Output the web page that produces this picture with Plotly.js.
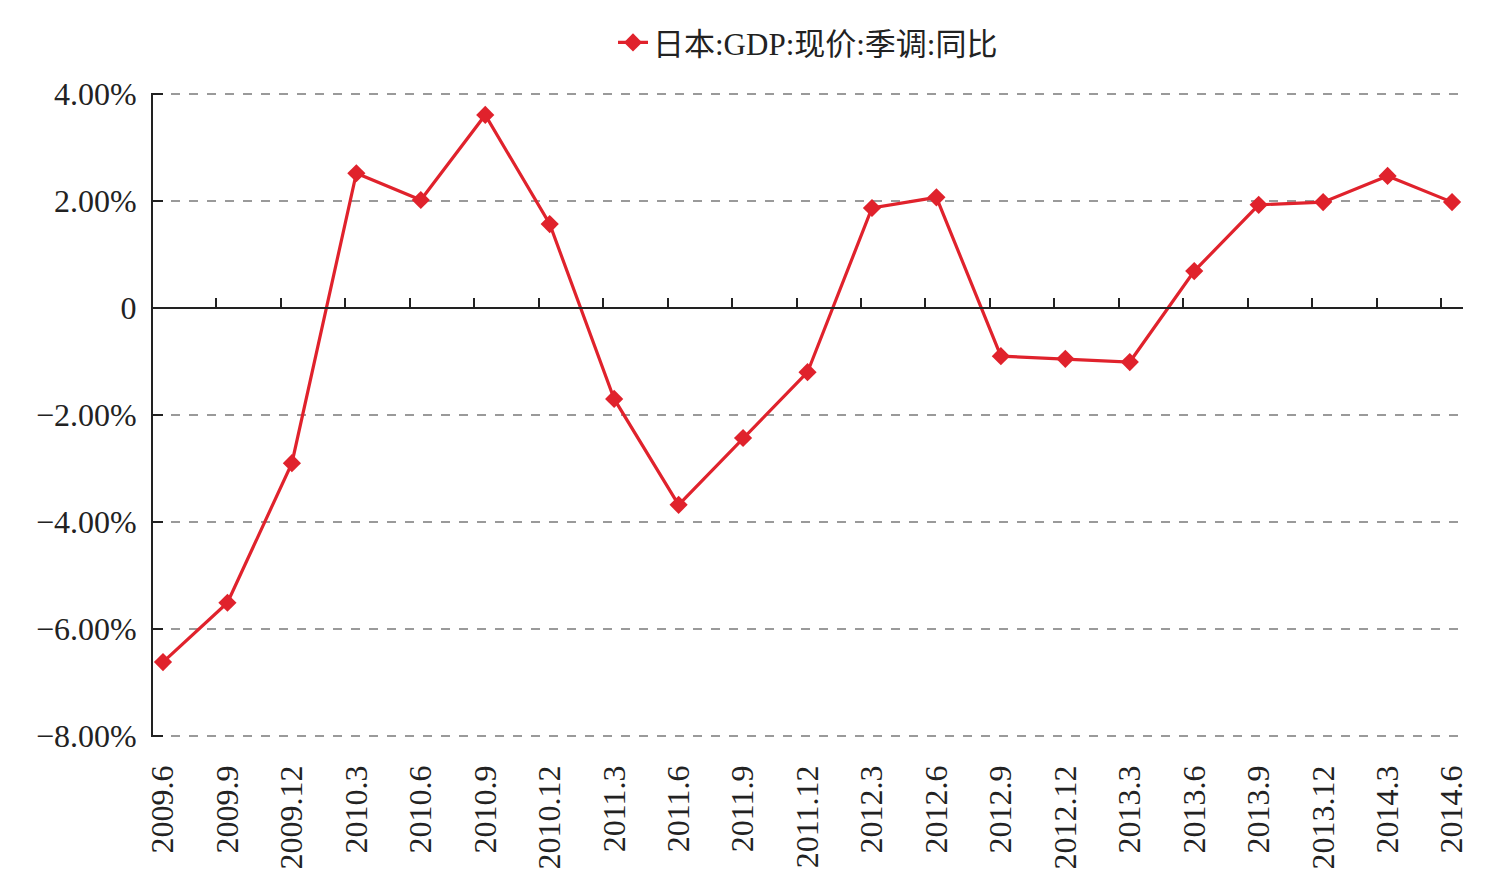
<!DOCTYPE html>
<html>
<head>
<meta charset="utf-8">
<script src="https://cdn.plot.ly/plotly-3.0.1.min.js"></script>
<style>html,body{margin:0;padding:0;background:#fff;}#chart{width:1509px;height:892px;}</style>
</head>
<body>
<div id="chart"></div>
<script>
const categories = ["2009.6","2009.9","2009.12","2010.3","2010.6","2010.9","2010.12","2011.3","2011.6","2011.9","2011.12","2012.3","2012.6","2012.9","2012.12","2013.3","2013.6","2013.9","2013.12","2014.3","2014.6"];
const gdpYoY = [-6.62,-5.51,-2.90,2.52,2.02,3.61,1.57,-1.70,-3.68,-2.43,-1.20,1.87,2.07,-0.90,-0.95,-1.01,0.69,1.93,1.98,2.47,1.98];
const seriesName = "日本:GDP:现价:季调:同比";
const yTickVals = [4,2,0,-2,-4,-6,-8];
const yTickText = ["4.00%","2.00%","0","\u22122.00%","\u22124.00%","\u22126.00%","\u22128.00%"];

const idx = categories.map((c,i)=>i);
const serif = "Liberation Serif, Times New Roman, serif";
const xr = [-0.155, categories.length - 1 + 0.17];
const pad = 0.02;

const trace = {
  x: idx, y: gdpYoY, name: seriesName, type: "scatter", mode: "lines+markers",
  line: {color: "#e0222c", width: 3.2},
  marker: {symbol: "diamond", size: 14, color: "#e0222c"},
  hoverinfo: "skip"
};
const helper = {x: [xr[0]], y: [0], xaxis: "x2", yaxis: "y", mode: "markers",
  marker: {opacity: 0}, showlegend: false, hoverinfo: "skip"};

const layout = {
  width: 1509, height: 892,
  margin: {l: 153, r: 46, t: 93, b: 155},
  paper_bgcolor: "#fff", plot_bgcolor: "#fff",
  font: {family: serif, color: "#222", size: 32},
  showlegend: true,
  legend: {orientation: "h", x: 0.5, xanchor: "center", y: 1.078, yanchor: "middle",
    font: {family: "Liberation Serif, Noto Sans CJK SC, serif", size: 31, color: "#222"}},
  xaxis: {
    range: xr, tickmode: "array", tickvals: idx, ticktext: categories,
    tickangle: -90, showgrid: false, zeroline: false, showline: false, ticks: "",
    tickfont: {family: serif, size: 32, color: "#222"}, ticklabelstandoff: 21, fixedrange: true
  },
  xaxis2: {
    overlaying: "x", anchor: "free", position: (8 + pad) / (12 + 2 * pad), side: "bottom",
    range: xr, tickmode: "array", tickvals: idx.slice(0, -1).map(i => i + 0.83),
    showticklabels: false, ticks: "inside", ticklen: 9, tickwidth: 2, tickcolor: "#222",
    showline: true, linecolor: "#222", linewidth: 2, showgrid: false, zeroline: false, fixedrange: true
  },
  yaxis: {
    range: [-8 - pad, 4 + pad], tickmode: "array", tickvals: yTickVals, ticktext: yTickText,
    showline: true, linecolor: "#222", linewidth: 2,
    ticks: "inside", ticklen: 10, tickwidth: 2, tickcolor: "#222",
    showgrid: true, gridcolor: "#9a9a9a", gridwidth: 1.5, griddash: "dash",
    zeroline: false, tickfont: {family: serif, size: 32, color: "#222"},
    ticklabelstandoff: 8, fixedrange: true
  }
};
Plotly.newPlot("chart", [trace, helper], layout, {displayModeBar: false, staticPlot: true});
</script>
</body>
</html>
